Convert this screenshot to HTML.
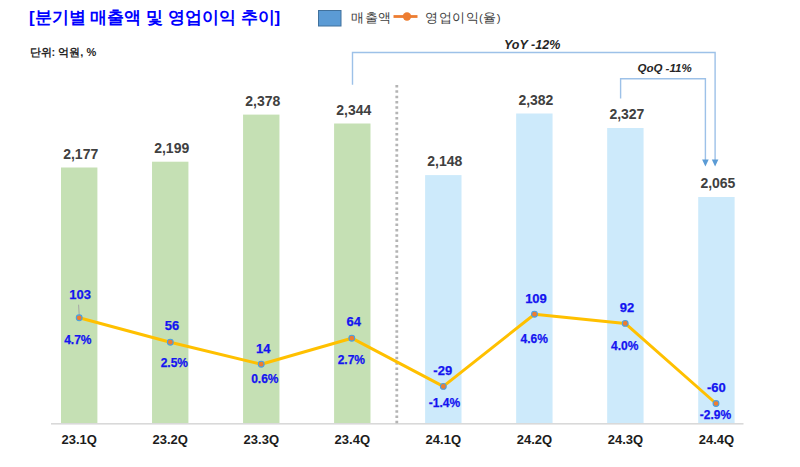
<!DOCTYPE html>
<html><head><meta charset="utf-8"><style>
html,body{margin:0;padding:0;background:#fff;width:800px;height:467px;overflow:hidden}
svg{display:block}
text{font-family:"Liberation Sans",sans-serif}
.bl{font-size:14px;font-weight:bold;fill:#404040;text-anchor:middle}
.cat{font-size:13px;font-weight:bold;fill:#1c1c1c;text-anchor:middle}
.dv{font-size:13px;font-weight:bold;fill:#1414f0;stroke:#1414f0;stroke-width:0.25px;text-anchor:middle}
.dp{font-size:12px;font-weight:bold;fill:#1414f0;stroke:#1414f0;stroke-width:0.25px;text-anchor:middle}
.yoy{font-size:12.5px;font-weight:bold;font-style:italic;fill:#262626}
.qoq{font-size:11.5px;font-weight:bold;font-style:italic;fill:#262626}
.leg{font-size:13px;letter-spacing:0.5px;fill:#404040}
.title{font-size:17px;font-weight:bold;fill:#0000ff}
.unit{font-size:11px;font-weight:bold;fill:#262626}
</style></head><body>
<svg width="800" height="467" viewBox="0 0 800 467">
<rect x="61.00" y="167.5" width="36.4" height="255.5" fill="#c5e0b4"/>
<rect x="152.03" y="161.7" width="36.4" height="261.3" fill="#c5e0b4"/>
<rect x="243.06" y="114.6" width="36.4" height="308.4" fill="#c5e0b4"/>
<rect x="334.09" y="123.5" width="36.4" height="299.5" fill="#c5e0b4"/>
<rect x="425.12" y="175.1" width="36.4" height="247.9" fill="#cdeafb"/>
<rect x="516.15" y="113.5" width="36.4" height="309.5" fill="#cdeafb"/>
<rect x="607.18" y="128.0" width="36.4" height="295.0" fill="#cdeafb"/>
<rect x="698.21" y="197.0" width="36.4" height="226.0" fill="#cdeafb"/>
<rect x="51" y="423" width="692.5" height="1.6" fill="#d9d9d9"/>
<line x1="396.8" y1="85.0" x2="396.8" y2="424" stroke="#b4b4b4" stroke-width="2.8" stroke-dasharray="2.5 2.83"/>
<text x="80.7" y="158.8" class="bl">2,177</text>
<text x="171.7" y="153.0" class="bl">2,199</text>
<text x="262.8" y="105.9" class="bl">2,378</text>
<text x="353.8" y="114.8" class="bl">2,344</text>
<text x="444.8" y="166.4" class="bl">2,148</text>
<text x="535.9" y="104.8" class="bl">2,382</text>
<text x="626.9" y="119.3" class="bl">2,327</text>
<text x="717.9" y="188.3" class="bl">2,065</text>
<text x="79.2" y="444.3" class="cat">23.1Q</text>
<text x="170.2" y="444.3" class="cat">23.2Q</text>
<text x="261.3" y="444.3" class="cat">23.3Q</text>
<text x="352.3" y="444.3" class="cat">23.4Q</text>
<text x="443.3" y="444.3" class="cat">24.1Q</text>
<text x="534.4" y="444.3" class="cat">24.2Q</text>
<text x="625.4" y="444.3" class="cat">24.3Q</text>
<text x="716.4" y="444.3" class="cat">24.4Q</text>
<polyline points="79.2,317.8 170.3,342.2 261.2,364.2 351.8,338.2 443.3,386.4 534.5,314.2 625.2,323.4 716,403.5" fill="none" stroke="#ffc000" stroke-width="3" stroke-linejoin="round"/>
<line x1="78.6" y1="304.7" x2="79.2" y2="315" stroke="#a6a6a6" stroke-width="1"/>
<circle cx="79.2" cy="317.8" r="2.9" fill="#ed7d31" stroke="#4aa0e0" stroke-width="1.1"/>
<circle cx="170.3" cy="342.2" r="2.9" fill="#ed7d31" stroke="#4aa0e0" stroke-width="1.1"/>
<circle cx="261.2" cy="364.2" r="2.9" fill="#ed7d31" stroke="#4aa0e0" stroke-width="1.1"/>
<circle cx="351.8" cy="338.2" r="2.9" fill="#ed7d31" stroke="#4aa0e0" stroke-width="1.1"/>
<circle cx="443.3" cy="386.4" r="2.9" fill="#ed7d31" stroke="#4aa0e0" stroke-width="1.1"/>
<circle cx="534.5" cy="314.2" r="2.9" fill="#ed7d31" stroke="#4aa0e0" stroke-width="1.1"/>
<circle cx="625.2" cy="323.4" r="2.9" fill="#ed7d31" stroke="#4aa0e0" stroke-width="1.1"/>
<circle cx="716" cy="403.5" r="2.9" fill="#ed7d31" stroke="#4aa0e0" stroke-width="1.1"/>
<text x="80.15" y="298.7" class="dv">103</text>
<text x="172" y="330.2" class="dv">56</text>
<text x="263.2" y="352.5" class="dv">14</text>
<text x="353.75" y="325.8" class="dv">64</text>
<text x="442.75" y="374.7" class="dv">-29</text>
<text x="536" y="302.5" class="dv">109</text>
<text x="627" y="311.7" class="dv">92</text>
<text x="716.35" y="391.5" class="dv">-60</text>
<text x="77.85" y="343.7" class="dp">4.7%</text>
<text x="174.35" y="366.7" class="dp">2.5%</text>
<text x="264.85" y="383.2" class="dp">0.6%</text>
<text x="351.35" y="363.7" class="dp">2.7%</text>
<text x="444.5" y="406.7" class="dp">-1.4%</text>
<text x="534.2" y="342.7" class="dp">4.6%</text>
<text x="624.65" y="350.3" class="dp">4.0%</text>
<text x="715.5" y="418.5" class="dp">-2.9%</text>
<path d="M352.5 84.7 V52.5 H715.1 V160" fill="none" stroke="#9dc1e8" stroke-width="1.4"/>
<path d="M620.6 98.5 V78.7 H705.4 V160" fill="none" stroke="#9dc1e8" stroke-width="1.4"/>
<path d="M711.8 159.5 L718.4 159.5 L715.1 166.5 Z" fill="#5b9bd5"/>
<path d="M702.1 159.5 L708.7 159.5 L705.4 166.5 Z" fill="#5b9bd5"/>
<text x="504" y="49.3" class="yoy">YoY -12%</text>
<text x="637.5" y="71.7" class="qoq">QoQ -11%</text>
<rect x="318.5" y="10.5" width="22.5" height="15.5" fill="#5b9bd5" stroke="#41719c" stroke-width="1"/>
<text x="351" y="21.5" class="leg">매출액</text>
<line x1="393.5" y1="16.5" x2="417.5" y2="16.5" stroke="#ed7d31" stroke-width="2.8"/>
<circle cx="407" cy="16.5" r="4.2" fill="#ed7d31"/>
<text x="425" y="21.5" class="leg">영업이익<tspan style="font-size:11.5px">(</tspan>율<tspan style="font-size:11.5px">)</tspan></text>
<text x="29" y="23" class="title">[분기별 매출액 및 영업이익 추이]</text>
<text x="29.6" y="55.8" class="unit">단위: 억원, %</text>
</svg>
</body></html>
